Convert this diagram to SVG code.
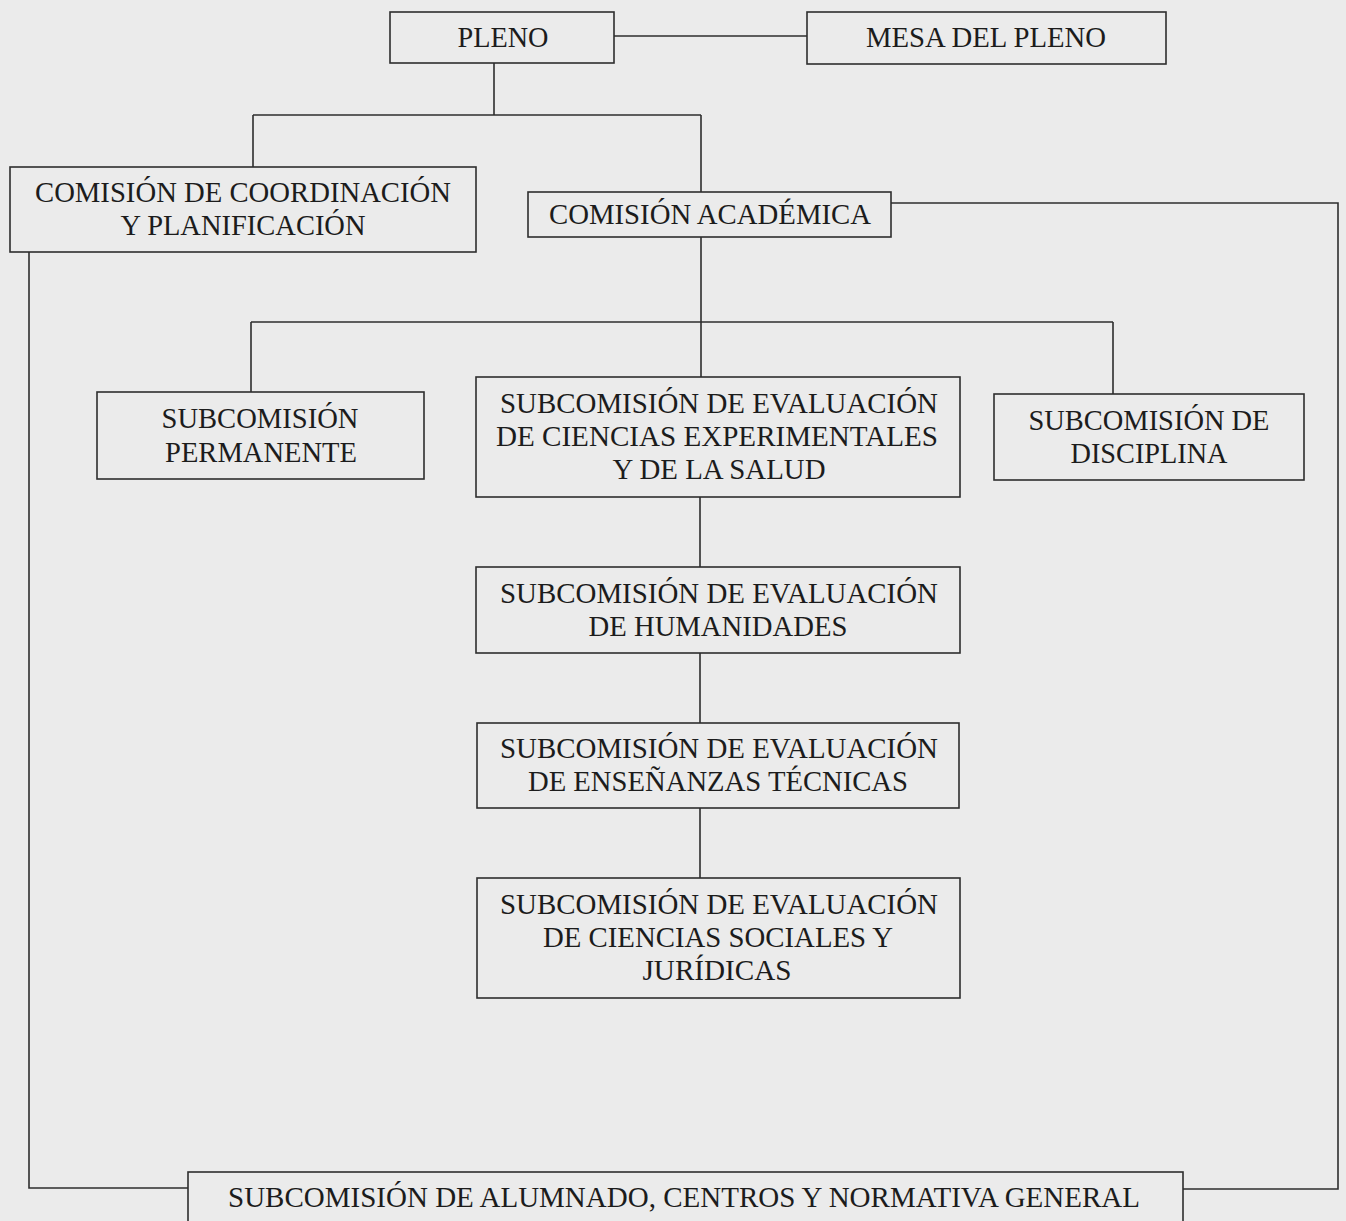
<svg xmlns="http://www.w3.org/2000/svg" width="1346" height="1221" viewBox="0 0 1346 1221">
<style>
.bg{fill:#ebebeb}
.box{fill:none;stroke:#2e2e2e;stroke-width:1.6}
.ln{fill:none;stroke:#2e2e2e;stroke-width:1.6}
text{font-family:"Liberation Serif","Times New Roman",serif;font-size:30px;fill:#1c1c1c;text-anchor:middle}
</style>
<rect class="bg" x="0" y="0" width="1346" height="1221"/>
<g id="connectors">
<path class="ln" d="M614 36 H807"/>
<path class="ln" d="M494 63 V115 M253 115 H701 M253 115 V167 M701 115 V192"/>
<path class="ln" d="M891 203 H1338 V1189 H1183"/>
<path class="ln" d="M29 252 V1188 H188"/>
<path class="ln" d="M701 237 V377 M251 322 H1113 M251 322 V392 M1113 322 V394"/>
<path class="ln" d="M700 497 V567 M700 653 V723 M700 808 V878"/>
</g>
<g id="pleno"><rect class="box" x="390" y="12" width="224" height="51"/><text x="503" y="47" textLength="91" lengthAdjust="spacingAndGlyphs">PLENO</text></g>
<g id="mesa"><rect class="box" x="807" y="12" width="359" height="52"/><text x="986" y="47" textLength="240" lengthAdjust="spacingAndGlyphs">MESA DEL PLENO</text></g>
<g id="coordinacion"><rect class="box" x="10" y="167" width="466" height="85"/><text x="243" y="202" textLength="416" lengthAdjust="spacingAndGlyphs">COMISIÓN DE COORDINACIÓN</text><text x="243" y="235" textLength="245" lengthAdjust="spacingAndGlyphs">Y PLANIFICACIÓN</text></g>
<g id="academica"><rect class="box" x="528" y="192" width="363" height="45"/><text x="710" y="224" textLength="322" lengthAdjust="spacingAndGlyphs">COMISIÓN ACADÉMICA</text></g>
<g id="permanente"><rect class="box" x="97" y="392" width="327" height="87"/><text x="260" y="428" textLength="197" lengthAdjust="spacingAndGlyphs">SUBCOMISIÓN</text><text x="261" y="462" textLength="192" lengthAdjust="spacingAndGlyphs">PERMANENTE</text></g>
<g id="experimentales"><rect class="box" x="476" y="377" width="484" height="120"/><text x="719" y="413" textLength="438" lengthAdjust="spacingAndGlyphs">SUBCOMISIÓN DE EVALUACIÓN</text><text x="717" y="446" textLength="442" lengthAdjust="spacingAndGlyphs">DE CIENCIAS EXPERIMENTALES</text><text x="719" y="479" textLength="213" lengthAdjust="spacingAndGlyphs">Y DE LA SALUD</text></g>
<g id="disciplina"><rect class="box" x="994" y="394" width="310" height="86"/><text x="1149" y="430" textLength="241" lengthAdjust="spacingAndGlyphs">SUBCOMISIÓN DE</text><text x="1149" y="463" textLength="157" lengthAdjust="spacingAndGlyphs">DISCIPLINA</text></g>
<g id="humanidades"><rect class="box" x="476" y="567" width="484" height="86"/><text x="719" y="603" textLength="438" lengthAdjust="spacingAndGlyphs">SUBCOMISIÓN DE EVALUACIÓN</text><text x="718" y="636" textLength="259" lengthAdjust="spacingAndGlyphs">DE HUMANIDADES</text></g>
<g id="tecnicas"><rect class="box" x="477" y="723" width="482" height="85"/><text x="719" y="758" textLength="438" lengthAdjust="spacingAndGlyphs">SUBCOMISIÓN DE EVALUACIÓN</text><text x="718" y="791" textLength="380" lengthAdjust="spacingAndGlyphs">DE ENSEÑANZAS TÉCNICAS</text></g>
<g id="sociales"><rect class="box" x="477" y="878" width="483" height="120"/><text x="719" y="914" textLength="438" lengthAdjust="spacingAndGlyphs">SUBCOMISIÓN DE EVALUACIÓN</text><text x="718" y="947" textLength="350" lengthAdjust="spacingAndGlyphs">DE CIENCIAS SOCIALES Y</text><text x="717" y="980" textLength="149" lengthAdjust="spacingAndGlyphs">JURÍDICAS</text></g>
<g id="alumnado"><rect class="box" x="188" y="1172" width="995" height="60"/><text x="684" y="1207" textLength="912" lengthAdjust="spacingAndGlyphs">SUBCOMISIÓN DE ALUMNADO, CENTROS Y NORMATIVA GENERAL</text></g>
</svg>
